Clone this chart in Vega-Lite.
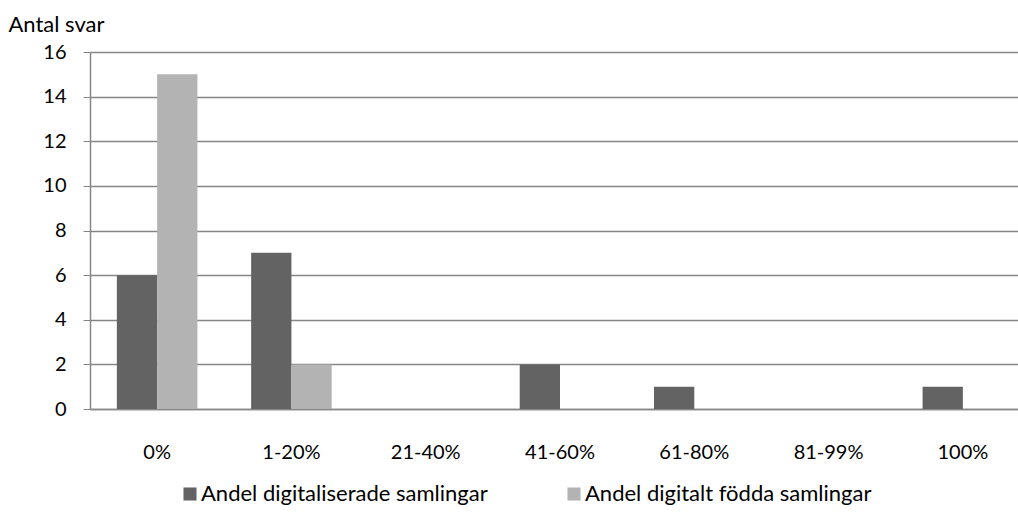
{
  "$schema": "https://vega.github.io/schema/vega-lite/v6.json",
  "width": 928,
  "height": 357,
  "autosize": "none",
  "padding": {"left": 90, "top": 52, "right": 0, "bottom": 106},
  "background": "white",
  "config": {
    "font": "Lato",
    "view": {"stroke": null}
  },
  "data": {
    "values": [
      {"kat": "0%", "serie": "Andel digitaliserade samlingar", "antal": 6},
      {"kat": "0%", "serie": "Andel digitalt födda samlingar", "antal": 15},
      {"kat": "1-20%", "serie": "Andel digitaliserade samlingar", "antal": 7},
      {"kat": "1-20%", "serie": "Andel digitalt födda samlingar", "antal": 2},
      {"kat": "21-40%", "serie": "Andel digitaliserade samlingar", "antal": 0},
      {"kat": "21-40%", "serie": "Andel digitalt födda samlingar", "antal": 0},
      {"kat": "41-60%", "serie": "Andel digitaliserade samlingar", "antal": 2},
      {"kat": "41-60%", "serie": "Andel digitalt födda samlingar", "antal": 0},
      {"kat": "61-80%", "serie": "Andel digitaliserade samlingar", "antal": 1},
      {"kat": "61-80%", "serie": "Andel digitalt födda samlingar", "antal": 0},
      {"kat": "81-99%", "serie": "Andel digitaliserade samlingar", "antal": 0},
      {"kat": "81-99%", "serie": "Andel digitalt födda samlingar", "antal": 0},
      {"kat": "100%", "serie": "Andel digitaliserade samlingar", "antal": 1},
      {"kat": "100%", "serie": "Andel digitalt födda samlingar", "antal": 0}
    ]
  },
  "mark": {"type": "bar"},
  "encoding": {
    "x": {
      "field": "kat",
      "type": "nominal",
      "sort": ["0%", "1-20%", "21-40%", "41-60%", "61-80%", "81-99%", "100%"],
      "scale": {"paddingInner": 0.4, "paddingOuter": 0.2, "range": [0, 940]},
      "axis": {
        "title": null,
        "labelAngle": 0,
        "labelFontSize": 20,
        "labelColor": "#000000",
        "labelPadding": 33,
        "ticks": false,
        "domainColor": "#868686",
        "domainWidth": 1.5,
        "grid": false
      }
    },
    "xOffset": {
      "field": "serie",
      "type": "nominal",
      "sort": ["Andel digitaliserade samlingar", "Andel digitalt födda samlingar"],
      "scale": {"paddingInner": 0, "paddingOuter": 0}
    },
    "y": {
      "field": "antal",
      "type": "quantitative",
      "scale": {"domain": [0, 16], "nice": false},
      "axis": {
        "values": [0, 2, 4, 6, 8, 10, 12, 14, 16],
        "title": "Antal svar",
        "titleAngle": 0,
        "titleAlign": "left",
        "titleBaseline": "alphabetic",
        "titleX": -82,
        "titleY": -21,
        "titleFontSize": 22,
        "titleFontWeight": "normal",
        "titleColor": "#000000",
        "labelFontSize": 20,
        "labelColor": "#000000",
        "labelPadding": 17,
        "tickColor": "#868686",
        "tickSize": 7,
        "domainColor": "#868686",
        "domainWidth": 1.5,
        "gridColor": "#868686",
        "gridWidth": 1.5
      }
    },
    "color": {
      "field": "serie",
      "type": "nominal",
      "sort": ["Andel digitaliserade samlingar", "Andel digitalt födda samlingar"],
      "scale": {
        "domain": ["Andel digitaliserade samlingar", "Andel digitalt födda samlingar"],
        "range": ["#636363", "#b3b3b3"]
      },
      "legend": {
        "title": null,
        "orient": "none",
        "direction": "horizontal",
        "legendX": 89,
        "legendY": 431,
        "symbolType": "square",
        "symbolSize": 170,
        "symbolStrokeWidth": 0,
        "labelFontSize": 22,
        "labelColor": "#000000",
        "labelOffset": 0,
        "columnPadding": 75,
        "labelLimit": 400
      }
    }
  }
}
